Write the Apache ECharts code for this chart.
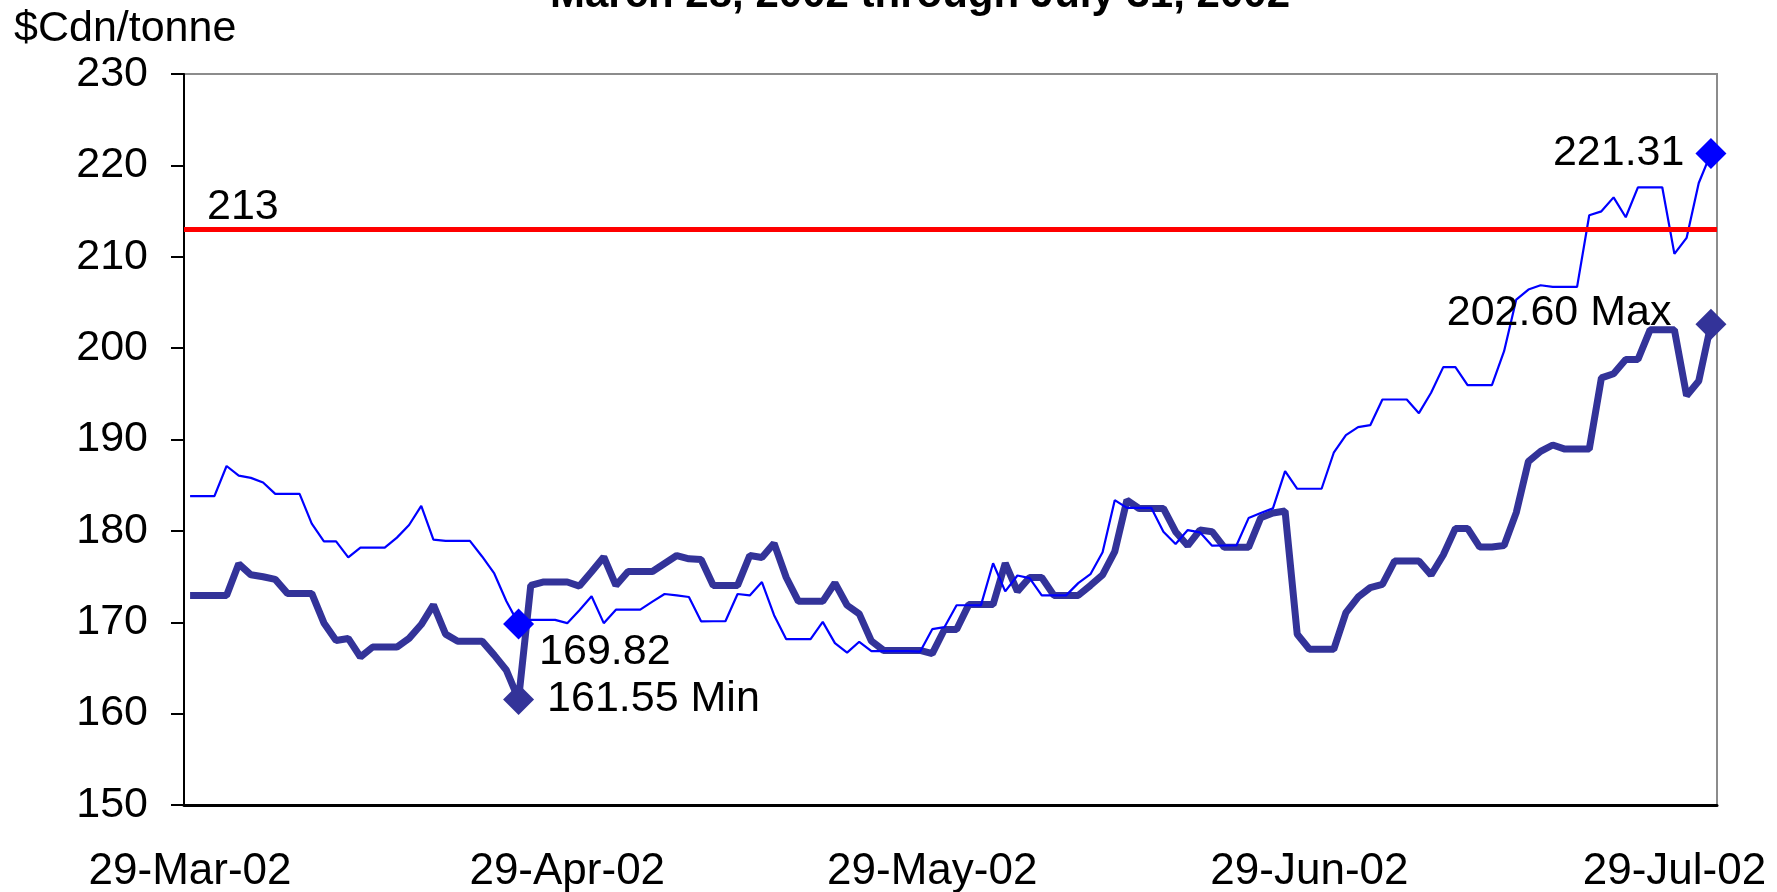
<!DOCTYPE html>
<html>
<head>
<meta charset="utf-8">
<script src="https://cdn.jsdelivr.net/npm/echarts@6/dist/echarts.min.js"></script>
<style>
  html, body { margin: 0; padding: 0; background: #fff; }
  #chart { width: 1777px; height: 892px; }
</style>
</head>
<body>
<div id="chart"></div>
<script>
// one category per calendar day, 29-Mar-02 .. 1-Aug-02
const firstDay = Date.UTC(2002, 2, 29)
const dayCount = 126
const monthNames = ['Jan', 'Feb', 'Mar', 'Apr', 'May', 'Jun', 'Jul', 'Aug', 'Sep', 'Oct', 'Nov', 'Dec']

const days = []
for (let i = 0; i < dayCount; i++) {
  const d = new Date(firstDay + i * 86400000)
  days.push(d.getUTCDate() + '-' + monthNames[d.getUTCMonth()] + '-02')
}

// thin blue line
const thinLine = [
  183.8, 183.8, 183.8, 187.1, 186.05, 185.8, 185.3, 184.05, 184.05, 184.05,
  180.8, 178.86, 178.86, 177.1, 178.17, 178.17, 178.17, 179.26, 180.64, 182.74,
  179.04, 178.9, 178.9, 178.9, 177.2, 175.34, 172.3, 169.82, 170.26, 170.26,
  170.26, 169.9, 171.32, 172.84, 169.9, 171.38, 171.38, 171.38, 172.25, 173.09,
  172.95, 172.76, 170.1, 170.11, 170.11, 173.09, 172.94, 174.4, 170.77, 168.15,
  168.15, 168.15, 170.04, 167.72, 166.67, 167.86, 166.85, 166.85, 166.85, 166.85,
  166.78, 169.24, 169.46, 171.86, 171.86, 171.85, 176.46, 173.38, 175.12, 174.83,
  172.94, 172.94, 172.94, 174.28, 175.26, 177.66, 183.36, 182.52, 182.52, 182.52,
  179.91, 178.57, 180.09, 179.84, 178.38, 178.4, 178.4, 181.4, 181.95, 182.46,
  186.54, 184.61, 184.61, 184.61, 188.55, 190.48, 191.35, 191.57, 194.38, 194.38,
  194.38, 192.88, 195.11, 197.92, 197.92, 195.95, 195.95, 195.95, 199.66, 205.31,
  206.41, 206.88, 206.7, 206.7, 206.7, 214.54, 214.97, 216.5, 214.32, 217.6,
  217.6, 217.6, 210.31, 212.06, 218.07, 221.31
]

// thick navy line
const thickLine = [
  172.94, 172.94, 172.94, 172.94, 176.39, 175.19, 174.98, 174.69, 173.16, 173.16,
  173.16, 169.93, 168.01, 168.23, 166.2, 167.28, 167.28, 167.28, 168.23, 169.75,
  171.9, 168.7, 167.93, 167.93, 167.93, 166.4, 164.74, 161.55, 174.03, 174.4,
  174.4, 174.4, 173.96, 175.52, 177.15, 174.03, 175.56, 175.56, 175.56, 176.43,
  177.3, 176.94, 176.86, 174.03, 174.03, 174.03, 177.3, 177.08, 178.64, 174.9,
  172.29, 172.29, 172.29, 174.29, 171.86, 170.91, 167.94, 166.92, 166.92, 166.92,
  166.92, 166.56, 169.21, 169.21, 171.93, 171.93, 171.93, 176.46, 173.38, 174.9,
  174.9, 172.94, 172.94, 172.94, 174.03, 175.19, 177.73, 183.36, 182.45, 182.45,
  182.45, 179.91, 178.38, 180.09, 179.91, 178.2, 178.2, 178.2, 181.44, 181.95,
  182.17, 168.68, 167.04, 167.04, 167.04, 171.05, 172.76, 173.79, 174.15, 176.7,
  176.7, 176.7, 175.17, 177.36, 180.27, 180.27, 178.23, 178.23, 178.4, 182.0,
  187.6, 188.7, 189.4, 188.95, 188.95, 188.95, 196.75, 197.2, 198.75, 198.75,
  202.0, 202.0, 202.0, 194.8, 196.4, 202.6
]

const refLevel = 213
const yMin = 150
const yMax = 230
const yStep = 10

const thinMarks = [
  { idx: 27, text: '169.82' },
  { idx: 125, text: '221.31' }
]
const thickMarks = [
  { idx: 27, text: '161.55 Min' },
  { idx: 125, text: '202.60 Max' }
]

const FONT = '"Liberation Sans", Arial, sans-serif'
const FS = 43
const THIN = '#0000ff'
const THICK = '#333399'

function markLabel(position, distance, offset) {
  return {
    show: true,
    position,
    distance,
    offset,
    color: '#000',
    fontSize: FS,
    fontFamily: FONT
  }
}

const chart = echarts.init(document.getElementById('chart'))

chart.setOption({
  animation: false,
  backgroundColor: '#fff',
  grid: {
    left: 184,
    right: 60,
    top: 74,
    bottom: 87,
    outerBoundsMode: 'none',
    show: true,
    borderColor: '#8c8c8c',
    borderWidth: 2
  },
  graphic: [
    {
      type: 'text',
      x: 920,
      y: -5,
      style: {
        text: 'March 28, 2002 through July 31, 2002',
        font: 'bold 42px ' + FONT,
        fill: '#000',
        align: 'center',
        verticalAlign: 'middle'
      }
    },
    {
      type: 'text',
      x: 14,
      y: 29,
      style: {
        text: '$Cdn/tonne',
        font: FS + 'px ' + FONT,
        fill: '#000',
        align: 'left',
        verticalAlign: 'middle'
      }
    }
  ],
  xAxis: {
    type: 'category',
    data: days,
    boundaryGap: true,
    axisLine: { lineStyle: { color: '#000', width: 3 } },
    axisTick: {
      length: 13,
      lineStyle: { color: '#000', width: 2 },
      interval: (idx, val) => val.startsWith('29-')
    },
    axisLabel: {
      interval: (idx, val) => val.startsWith('29-'),
      margin: 45,
      color: '#000',
      fontSize: 44,
      fontFamily: FONT
    },
    splitLine: { show: false }
  },
  yAxis: {
    type: 'value',
    min: yMin,
    max: yMax,
    interval: yStep,
    axisLine: { show: true, lineStyle: { color: '#000', width: 2 } },
    axisTick: { show: true, length: 13, lineStyle: { color: '#000', width: 2 } },
    axisLabel: { margin: 36, color: '#000', fontSize: FS, fontFamily: FONT },
    splitLine: { show: false }
  },
  series: [
    {
      name: 'thick',
      type: 'line',
      data: thickLine,
      symbol: 'none',
      lineStyle: { color: THICK, width: 7 },
      z: 2,
      markPoint: {
        symbol: 'diamond',
        symbolSize: 31,
        itemStyle: { color: THICK },
        data: [
          {
            coord: [days[thickMarks[0].idx], thickLine[thickMarks[0].idx]],
            label: { ...markLabel('right', 13, [0, 0]), formatter: thickMarks[0].text }
          },
          {
            coord: [days[thickMarks[1].idx], thickLine[thickMarks[1].idx]],
            label: { ...markLabel('left', 24, [0, -11]), formatter: thickMarks[1].text }
          }
        ]
      }
    },
    {
      name: 'thin',
      type: 'line',
      data: thinLine,
      symbol: 'none',
      lineStyle: { color: THIN, width: 2.2 },
      z: 3,
      markLine: {
        silent: true,
        symbol: 'none',
        lineStyle: { color: '#ff0000', width: 5, type: 'solid' },
        label: {
          show: true,
          position: 'insideStartTop',
          formatter: String(refLevel),
          distance: [23, 1],
          color: '#000',
          fontSize: FS,
          fontFamily: FONT
        },
        data: [{ yAxis: refLevel }]
      },
      markPoint: {
        symbol: 'diamond',
        symbolSize: 31,
        itemStyle: { color: THIN },
        data: [
          {
            coord: [days[thinMarks[0].idx], thinLine[thinMarks[0].idx]],
            label: { ...markLabel('right', 5, [0, 28]), formatter: thinMarks[0].text }
          },
          {
            coord: [days[thinMarks[1].idx], thinLine[thinMarks[1].idx]],
            label: { ...markLabel('left', 11, [0, 0]), formatter: thinMarks[1].text }
          }
        ]
      }
    }
  ]
})

window.addEventListener('resize', () => chart.resize())
</script>
</body>
</html>
